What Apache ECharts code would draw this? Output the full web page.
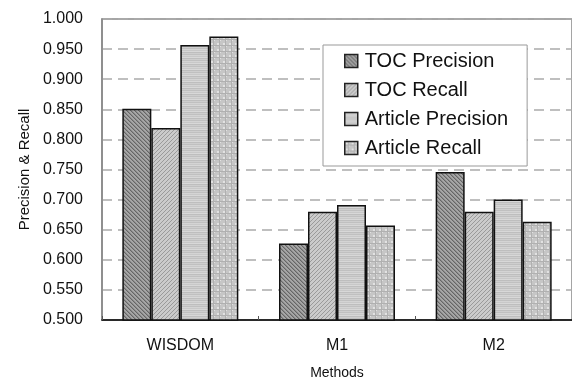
<!DOCTYPE html>
<html>
<head>
<meta charset="utf-8">
<script src="https://cdn.jsdelivr.net/npm/echarts@6/dist/echarts.min.js"></script>
<style>html,body{margin:0;padding:0;background:#fff}#c{width:572px;height:385px}</style>
</head>
<body>
<div id="c"></div>
<script>
const categories = ['WISDOM', 'M1', 'M2'];
const seriesNames = ['TOC Precision', 'TOC Recall', 'Article Precision', 'Article Recall'];
const tocPrecision = [0.851, 0.627, 0.746];
const tocRecall = [0.819, 0.680, 0.680];
const articlePrecision = [0.957, 0.691, 0.700];
const articleRecall = [0.971, 0.657, 0.663];
const yMin = 0.5, yMax = 1.0, yStep = 0.05;

function makePattern(w, h, draw) {
  const c = document.createElement('canvas');
  c.width = w; c.height = h;
  const ctx = c.getContext('2d');
  draw(ctx, w, h);
  return { image: c, repeat: 'repeat' };
}
const pat1 = makePattern(4, 4, (ctx, w, h) => {
  ctx.fillStyle = '#a6a6a6'; ctx.fillRect(0, 0, w, h);
  ctx.fillStyle = '#666666';
  for (let i = 0; i < 4; i++) ctx.fillRect(i, i, 1, 1);
  ctx.fillStyle = '#8a8a8a';
  for (let i = 0; i < 4; i++) ctx.fillRect((i + 1) % 4, i, 1, 1);
});
const pat2 = makePattern(4, 4, (ctx, w, h) => {
  ctx.fillStyle = '#cbcbcb'; ctx.fillRect(0, 0, w, h);
  ctx.fillStyle = '#9a9a9a';
  for (let i = 0; i < 4; i++) ctx.fillRect(3 - i, i, 1, 1);
});
const pat3 = makePattern(4, 6, (ctx, w, h) => {
  const rows = ['#c0c0c0', '#d4d4d4', '#c8c8c8', '#d8d8d8', '#bebebe', '#cecece'];
  rows.forEach((col, i) => { ctx.fillStyle = col; ctx.fillRect(0, i, w, 1); });
});
const pat4 = makePattern(6, 6, (ctx, w, h) => {
  ctx.fillStyle = '#c6c6c6'; ctx.fillRect(0, 0, w, h);
  ctx.fillStyle = '#e2e2e2';
  ctx.fillRect(1, 1, 2, 2);
  ctx.fillRect(4, 4, 1, 1);
  ctx.fillStyle = '#b0b0b0';
  ctx.fillRect(0, 3, 6, 1);
  ctx.fillRect(3, 0, 1, 6);
});
const patterns = [pat1, pat2, pat3, pat4];
const values = [tocPrecision, tocRecall, articlePrecision, articleRecall];

const chart = echarts.init(document.getElementById('c'), null, { renderer: 'canvas' });
const FONT = 'Liberation Sans, Arial, sans-serif';
chart.setOption({
  animation: false,
  backgroundColor: '#fff',
  textStyle: { fontFamily: FONT },
  grid: { left: 102, top: 19, width: 479, height: 305, show: true, borderColor: '#888', borderWidth: 1.5 },
  legend: {
    orient: 'vertical',
    left: 323, top: 45,
    padding: [6, 19, 8, 21],
    itemGap: 9,
    itemWidth: 13, itemHeight: 13,
    icon: 'rect',
    borderColor: '#999', borderWidth: 1,
    backgroundColor: '#fff',
    textStyle: { fontSize: 20, color: '#111', fontFamily: FONT, padding: [0, 0, 0, 2] },
    itemStyle: { borderColor: '#222', borderWidth: 1.5 },
    data: seriesNames
  },
  xAxis: {
    type: 'category',
    data: categories,
    name: 'Methods',
    nameLocation: 'middle',
    nameGap: 46,
    nameTextStyle: { fontSize: 14, color: '#111', fontFamily: FONT },
    axisLine: { lineStyle: { color: '#000', width: 1.5 } },
    axisTick: { show: true, inside: true, length: 4, lineStyle: { color: '#555' } },
    axisLabel: { fontSize: 16, color: '#111', margin: 18, fontFamily: FONT },
    splitLine: { show: false }
  },
  yAxis: {
    type: 'value',
    min: yMin, max: yMax, interval: yStep,
    name: 'Precision & Recall',
    nameLocation: 'middle',
    nameGap: 70,
    nameRotate: 90,
    nameTextStyle: { fontSize: 15, color: '#111', fontFamily: FONT },
    axisLine: { show: true, lineStyle: { color: '#888', width: 1.5 } },
    axisTick: { show: false },
    axisLabel: { fontSize: 16, color: '#111', margin: 19, fontFamily: FONT, formatter: v => v.toFixed(3) },
    splitLine: { show: true, lineStyle: { color: '#aaa', width: 1.5, type: [10, 6] } }
  },
  series: seriesNames.map((n, i) => ({
    name: n,
    type: 'bar',
    data: values[i],
    barWidth: 29,
    barGap: '0%',
    itemStyle: { color: patterns[i], borderColor: '#111', borderWidth: 1.5 }
  }))
});
</script>
</body>
</html>
